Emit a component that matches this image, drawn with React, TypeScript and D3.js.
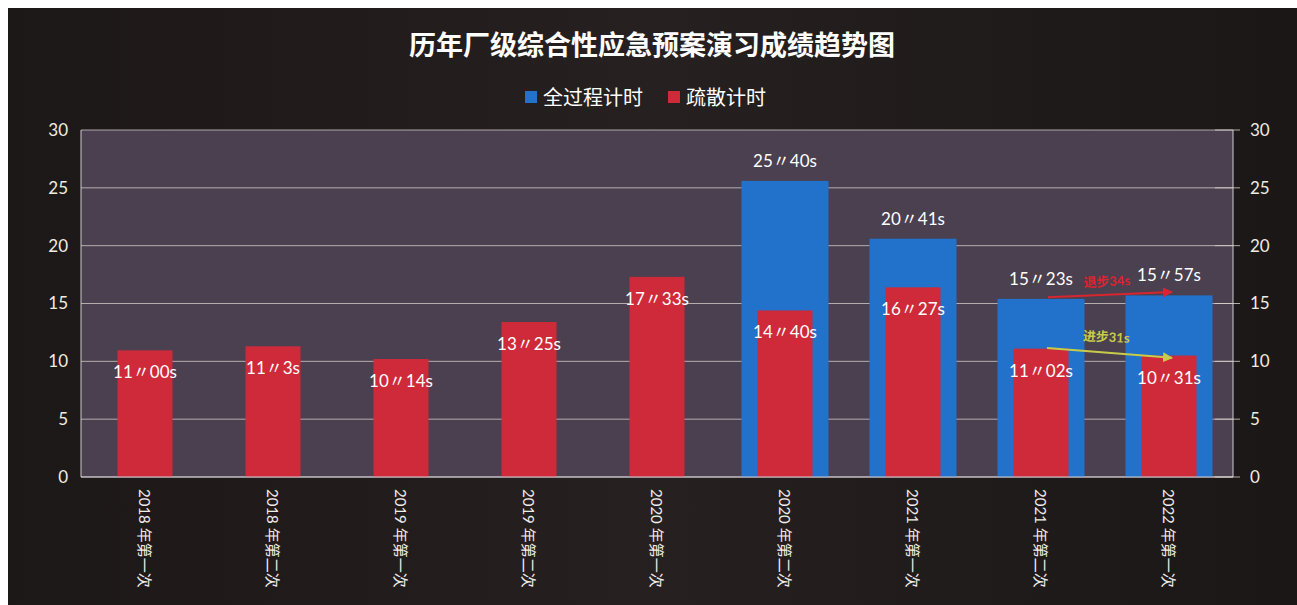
import React from 'react'
import * as d3 from 'd3'

const categories = [
    '2018 年第一次', '2018 年第二次', '2019 年第一次', '2019 年第二次', '2020 年第一次',
    '2020 年第二次', '2021 年第一次', '2021 年第二次', '2022 年第一次',
]
// 全过程计时 (null = no bar)
const totalValues: (number | null)[] = [null, null, null, null, null, 25.6, 20.6, 15.4, 15.7]
const totalLabels = ['', '', '', '', '', '25〃40s', '20〃41s', '15〃23s', '15〃57s']
// 疏散计时
const evacValues = [10.95, 11.3, 10.2, 13.4, 17.3, 14.4, 16.4, 11.1, 10.5]
const evacLabels = ['11〃00s', '11〃3s', '10〃14s', '13〃25s', '17〃33s', '14〃40s', '16〃27s', '11〃02s', '10〃31s']
const yTicks = [0, 5, 10, 15, 20, 25, 30]
const legendItems = [
    { name: '全过程计时', color: '#2272cc' },
    { name: '疏散计时', color: '#cf2a3a' },
]

const W = 1297, H = 605
const margin = { left: 81, right: 64, top: 130, bottom: 128 }
const font = 'Lato, "Noto Sans CJK SC", sans-serif'

export default function App() {
    const x = d3.scaleBand<string>()
        .domain(categories)
        .range([margin.left, W - margin.right])
    const y = d3.scaleLinear().domain([0, 30]).range([H - margin.bottom, margin.top])
    const bw = x.bandwidth()
    const cx = (i: number) => (x(categories[i]) ?? 0) + bw / 2
    const plotW = W - margin.right - margin.left

    return (
        <div style={{ position: 'absolute', left: 0, top: 0 }}>
            <svg width={W} height={H} style={{ display: 'block' }}>
                <defs>
                    <linearGradient id="bg" x1="0" y1="0" x2="1" y2="0">
                        <stop offset="0" stopColor="#1c1817" />
                        <stop offset="0.5" stopColor="#262020" />
                        <stop offset="1" stopColor="#1a1716" />
                    </linearGradient>
                    <marker id="arrRed" viewBox="0 0 10 10" refX="9" refY="5" markerWidth="5" markerHeight="5" orient="auto">
                        <path d="M0,0 L10,5 L0,10 z" fill="#d8262f" />
                    </marker>
                    <marker id="arrYel" viewBox="0 0 10 10" refX="9" refY="5" markerWidth="5" markerHeight="5" orient="auto">
                        <path d="M0,0 L10,5 L0,10 z" fill="#c7cc48" />
                    </marker>
                </defs>
                <rect x={0} y={0} width={W} height={H} fill="#ffffff" />
                <rect x={8} y={8} width={W - 8} height={H - 8} fill="url(#bg)" />

                {/* title */}
                <text x={652} y={55} textAnchor="middle" fill="#ffffff" fontSize={27} fontWeight="bold"
                    fontFamily={font}>历年厂级综合性应急预案演习成绩趋势图</text>

                {/* legend */}
                {legendItems.map((d, i) => {
                    const lx = 525 + i * 143
                    return (
                        <g key={d.name}>
                            <rect x={lx} y={91} width={12} height={12} fill={d.color} />
                            <text x={lx + 18} y={105} fill="#ffffff" fontSize={20} fontFamily={font}>{d.name}</text>
                        </g>
                    )
                })}

                {/* plot area */}
                <rect x={margin.left} y={margin.top} width={plotW} height={y(0) - y(30)} fill="#4a4050" />
                {yTicks.map(t => (
                    <line key={'g' + t} x1={margin.left} x2={W - margin.right} y1={y(t)} y2={y(t)}
                        stroke="#d8d2cc" strokeOpacity={0.75} strokeWidth={1} />
                ))}

                {/* blue bars */}
                {totalValues.map((v, i) => v == null ? null : (
                    <rect key={'b' + i} x={cx(i) - bw * 0.34} y={y(v)} width={bw * 0.68} height={y(0) - y(v)}
                        fill="#2272cc" />
                ))}
                {/* red bars */}
                {evacValues.map((v, i) => (
                    <rect key={'r' + i} x={cx(i) - bw * 0.215} y={y(v)} width={bw * 0.43} height={y(0) - y(v)}
                        fill="#cf2a3a" />
                ))}

                {/* axes frame */}
                <line x1={margin.left} x2={margin.left} y1={y(30)} y2={y(0)} stroke="#d0ccd0" />
                <line x1={W - margin.right} x2={W - margin.right} y1={y(30)} y2={y(0)} stroke="#d0ccd0" />
                <line x1={margin.left} x2={W - margin.right} y1={y(0)} y2={y(0)} stroke="#d0ccd0" />
                {yTicks.map(t => (
                    <g key={'t' + t}>
                        <text x={68} y={y(t)} dy="0.35em" textAnchor="end" fill="#f0ece0" fontSize={17}
                            fontFamily={font}>{t}</text>
                        <line x1={W - margin.right - 18} x2={W - margin.right + 7} y1={y(t)} y2={y(t)}
                            stroke="#d8d2cc" strokeOpacity={0.8} />
                        <text x={1250} y={y(t)} dy="0.35em" textAnchor="start" fill="#f0ece0" fontSize={17}
                            fontFamily={font}>{t}</text>
                    </g>
                ))}

                {/* data labels */}
                {totalValues.map((v, i) => v == null ? null : (
                    <text key={'bl' + i} x={cx(i)} y={y(v) - 20} dy="0.35em" textAnchor="middle" fill="#ffffff"
                        fontSize={17} fontFamily={font}>{totalLabels[i]}</text>
                ))}
                {evacValues.map((v, i) => (
                    <text key={'rl' + i} x={cx(i)} y={y(v) + 22} dy="0.35em" textAnchor="middle" fill="#ffffff"
                        fontSize={17} fontFamily={font}>{evacLabels[i]}</text>
                ))}

                {/* x labels */}
                {categories.map((c, i) => (
                    <text key={'x' + i} transform={`translate(${cx(i) - 6},${y(0) + 12}) rotate(90)`}
                        fill="#f0ece8" fontSize={15} fontFamily={font}>{c}</text>
                ))}

                {/* annotations */}
                <line x1={cx(7) + 7} y1={y(15.55)} x2={cx(8) + 3} y2={y(16.0)} stroke="#d8262f" strokeWidth={2}
                    markerEnd="url(#arrRed)" />
                <text x={cx(7) + 66} y={y(16.5)} textAnchor="middle" fill="#d8262f" fontSize={13} fontWeight="bold"
                    fontFamily={font} transform={`rotate(-3,${cx(7) + 66},${y(16.5)})`}>退步34s</text>
                <line x1={cx(7) + 6} y1={y(11.15)} x2={cx(8) + 3} y2={y(10.3)} stroke="#c7cc48" strokeWidth={2}
                    markerEnd="url(#arrYel)" />
                <text x={cx(7) + 65} y={y(11.7)} textAnchor="middle" fill="#c7cc48" fontSize={13} fontWeight="bold"
                    fontFamily={font} transform={`rotate(3,${cx(7) + 65},${y(11.7)})`}>进步31s</text>
            </svg>
        </div>
    )
}
